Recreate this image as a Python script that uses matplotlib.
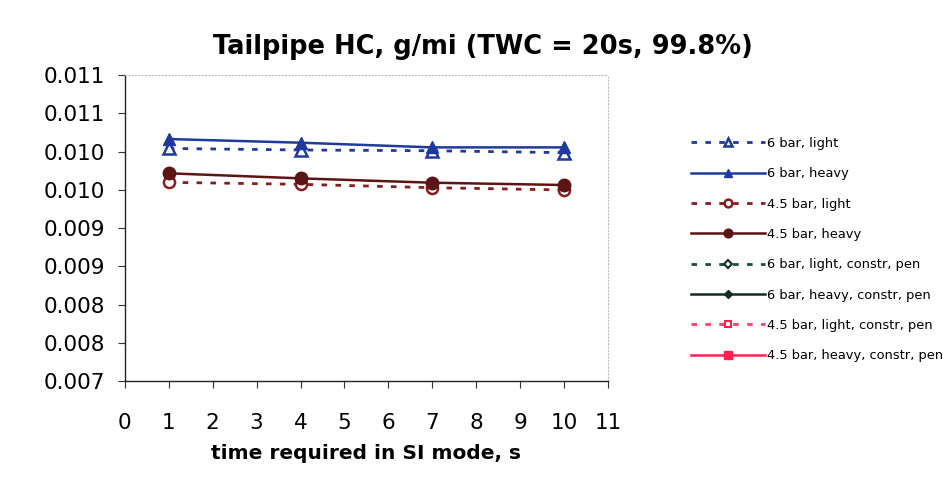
import matplotlib
matplotlib.use("Agg")
import matplotlib.pyplot as plt
from matplotlib.ticker import FixedLocator, FixedFormatter

plt.rcParams['font.family'] = ['DejaVu Sans']

# time in SI mode, s
times = [1, 4, 7, 10]

# tailpipe HC, g/mi
hc_6bar_light = [0.01004, 0.01002, 0.01001, 0.009985]
hc_6bar_heavy = [0.010163, 0.010115, 0.010054, 0.010054]
hc_45bar_light = [0.009597, 0.009571, 0.009527, 0.009497]
hc_45bar_heavy = [0.009715, 0.009649, 0.009592, 0.009562]
hc_6bar_light_cp = []
hc_6bar_heavy_cp = []
hc_45bar_light_cp = []
hc_45bar_heavy_cp = []

series_labels = ["6 bar, light", "6 bar, heavy", "4.5 bar, light", "4.5 bar, heavy",
                 "6 bar, light, constr, pen", "6 bar, heavy, constr, pen",
                 "4.5 bar, light, constr, pen", "4.5 bar, heavy, constr, pen"]

x_ticks = list(range(0, 12))
y_ticks = [0.0070, 0.0075, 0.0080, 0.0085, 0.0090, 0.0095, 0.0100, 0.0105, 0.0110]
y_tick_labels = ["0.007", "0.008", "0.008", "0.009", "0.009", "0.010", "0.010", "0.011", "0.011"]

fig = plt.figure(figsize=(9.53, 4.79), dpi=100)
fig.patch.set_facecolor('white')
ax = fig.add_axes([0.131, 0.2046, 0.507, 0.6388])

blue = '#1f3a9e'
dred = '#8b1c1c'
maroon = '#5c1414'
teal = '#1b4d3e'
dgreen = '#0f2f20'
pink = '#ff3d6e'
red = '#ff2050'

styles = [
    (hc_6bar_light, dict(color=blue, ls=(0, (2, 3)), lw=2.0, marker='^', mfc='white', mec=blue, mew=1.8, ms=8)),
    (hc_6bar_heavy, dict(color=blue, ls='-', lw=1.8, marker='^', mfc=blue, mec=blue, ms=9)),
    (hc_45bar_light, dict(color=dred, ls=(0, (2, 3)), lw=2.0, marker='o', mfc='white', mec=dred, mew=1.8, ms=8)),
    (hc_45bar_heavy, dict(color=maroon, ls='-', lw=1.8, marker='o', mfc=maroon, mec=maroon, ms=9)),
    (hc_6bar_light_cp, dict(color=teal, ls=(0, (2, 3)), lw=2.0, marker='D', mfc='white', mec=dgreen, mew=1.5, ms=6)),
    (hc_6bar_heavy_cp, dict(color=dgreen, ls='-', lw=1.8, marker='D', mfc=dgreen, mec=dgreen, ms=6)),
    (hc_45bar_light_cp, dict(color=pink, ls=(0, (2, 3)), lw=2.0, marker='s', mfc='white', mec=red, mew=1.5, ms=7)),
    (hc_45bar_heavy_cp, dict(color=red, ls='-', lw=1.8, marker='s', mfc=red, mec=red, ms=8)),
]

for (vals, st), lab in zip(styles, series_labels):
    ax.plot(times[:len(vals)], vals, label=lab, **st)

ax.set_xlim(0, 11)
ax.set_ylim(0.0070, 0.0110)
ax.xaxis.set_major_locator(FixedLocator(x_ticks))
ax.yaxis.set_major_locator(FixedLocator(y_ticks))
ax.yaxis.set_major_formatter(FixedFormatter(y_tick_labels))
ax.tick_params(axis='both', direction='out', length=5, width=0.8, color='#333333',
               labelsize=15.5)
ax.tick_params(axis='y', pad=9)
ax.tick_params(axis='x', pad=18)

for s in ('left', 'bottom'):
    ax.spines[s].set_color('#222222')
    ax.spines[s].set_linewidth(1.0)
for s in ('top', 'right'):
    ax.spines[s].set_color('#bbbbbb')
    ax.spines[s].set_linewidth(0.8)
    ax.spines[s].set_linestyle((0, (1, 2)))

fig.text(0.507, 0.902, "Tailpipe HC, g/mi (TWC = 20s, 99.8%)", fontsize=18.5,
         fontweight='bold', ha='center', va='center')
ax.set_xlabel("time required in SI mode, s", fontsize=14.5, fontweight='bold', labelpad=8)

leg = ax.legend(loc='upper left', bbox_to_anchor=(1.16, 0.815), frameon=False,
                fontsize=9.4, handlelength=5.7, handletextpad=0.15, labelspacing=1.33,
                borderaxespad=0, markerscale=0.7)

fig.savefig("out.png", dpi=100, facecolor='white')
